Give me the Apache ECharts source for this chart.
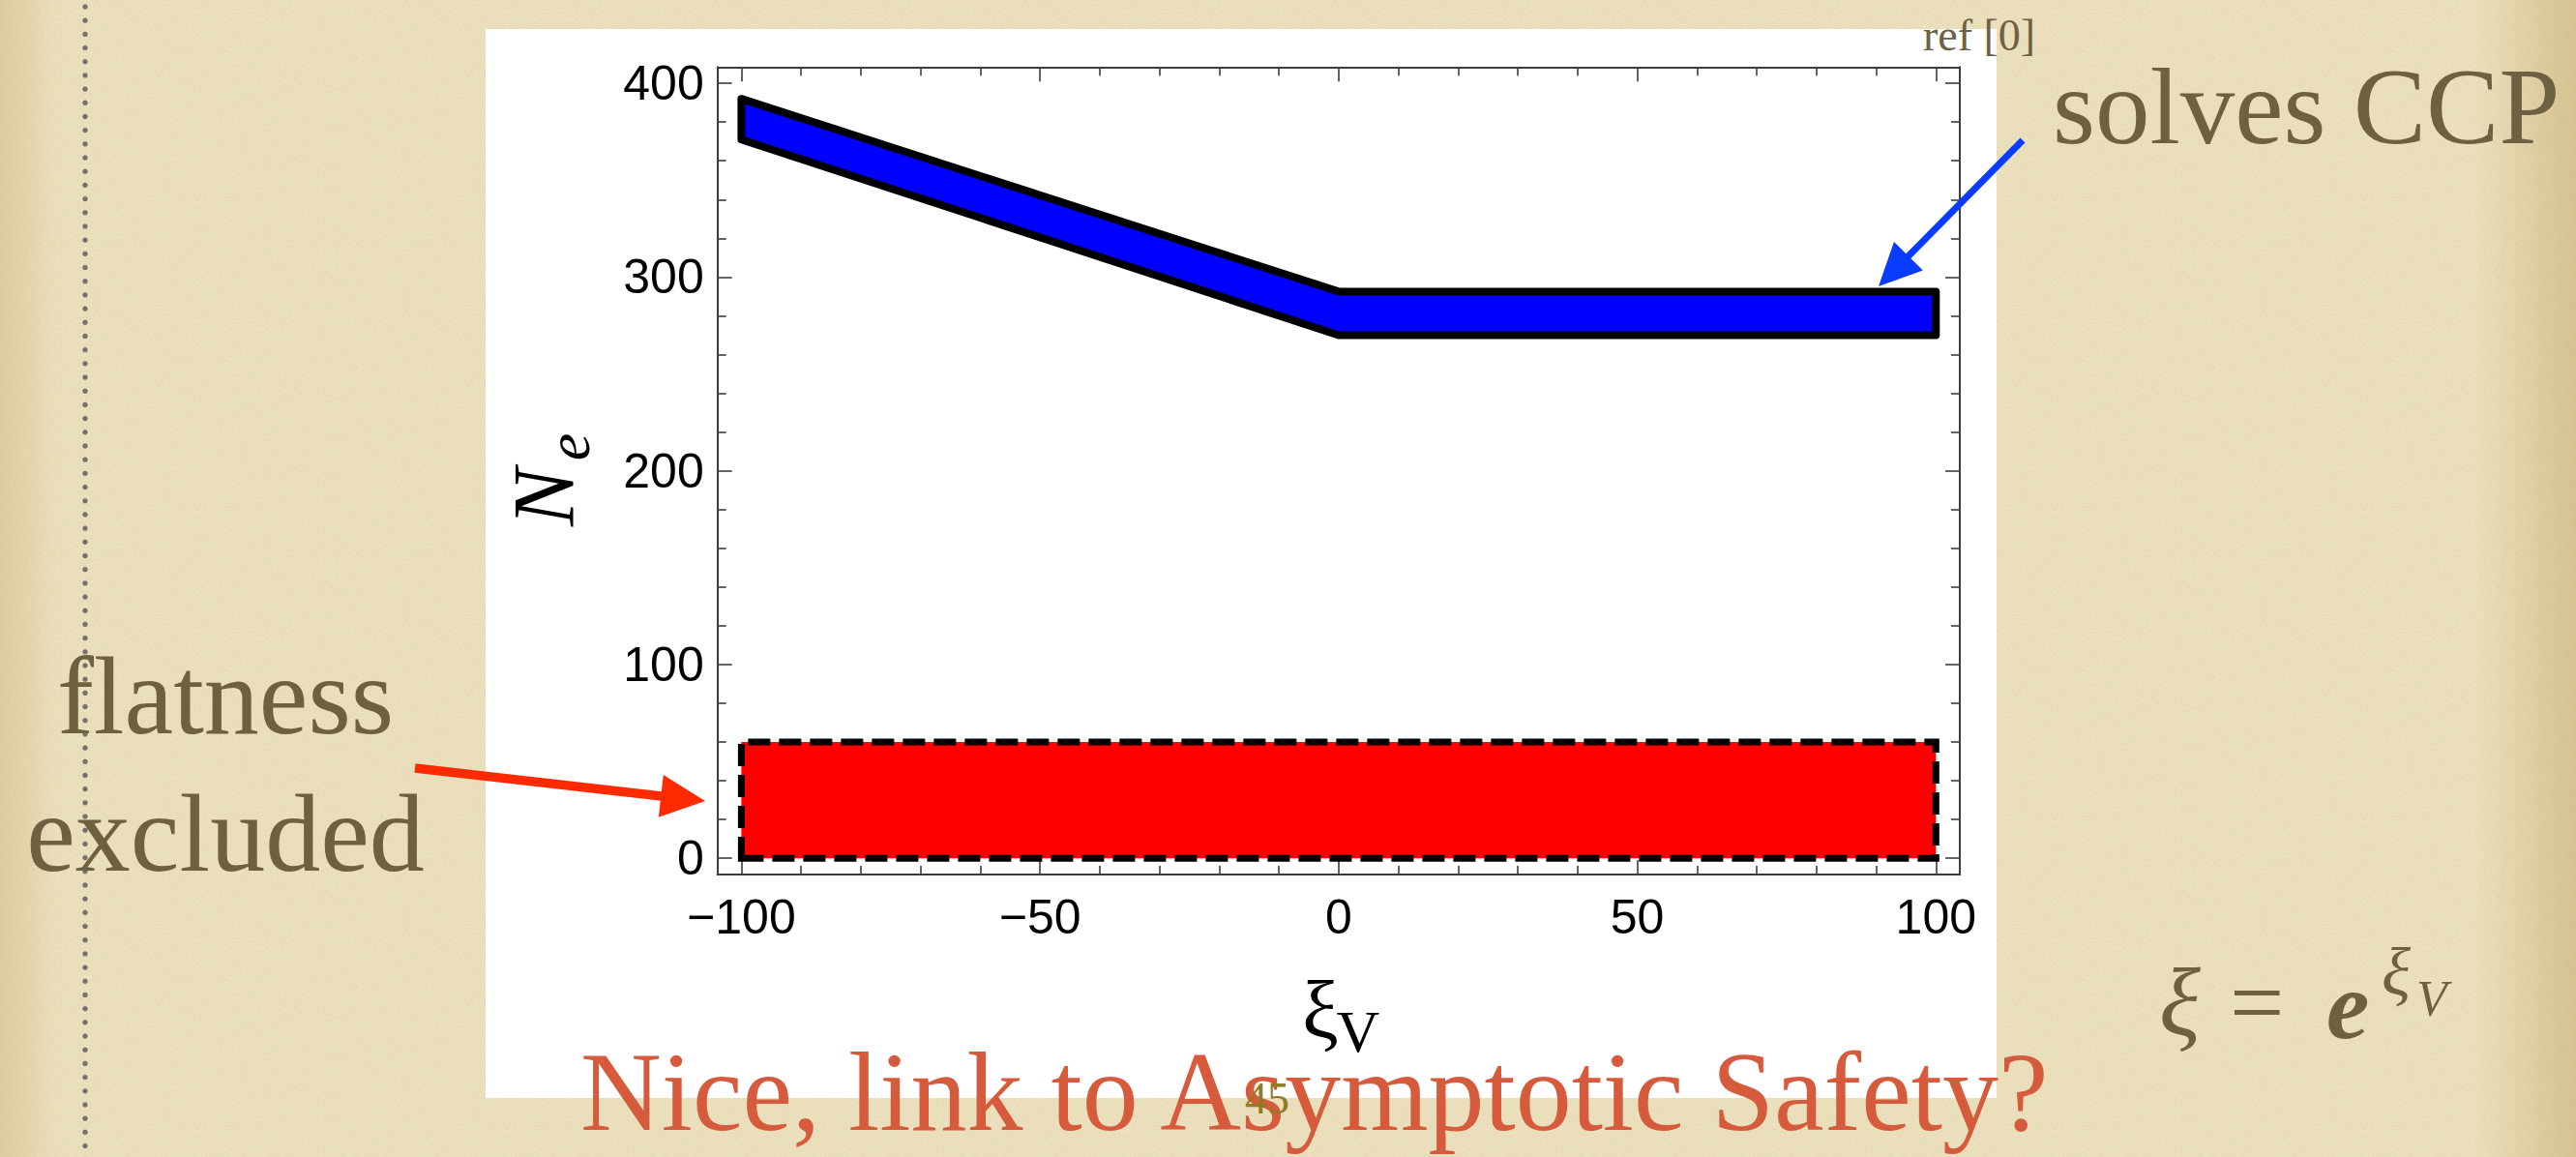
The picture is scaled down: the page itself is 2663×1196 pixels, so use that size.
<!DOCTYPE html>
<html>
<head>
<meta charset="utf-8">
<title>N_e versus xi_V</title>
<script src="https://cdn.jsdelivr.net/npm/echarts@6/dist/echarts.min.js"></script>
<style>
  html, body { margin: 0; padding: 0; width: 2663px; height: 1196px; overflow: hidden; }
  #slide { position: absolute; left: 0; top: 0; width: 2663px; height: 1196px; background: #ede2bf; }
  #grain { position: absolute; left: 0; top: 0; width: 100%; height: 100%; opacity: 0.55; }
  #shade { position: absolute; left: 0; top: 0; width: 100%; height: 100%;
    background: linear-gradient(to right, rgba(180,145,75,0.26) 0px, rgba(180,145,75,0) 60px,
                rgba(180,145,75,0) 2560px, rgba(180,145,75,0.38) 2663px); }
  #rule { position: absolute; left: 85px; top: 0; width: 6px; height: 1196px;
    background-image: radial-gradient(circle at 3px 7px, #74706a 2.3px, rgba(116,112,106,0) 3px);
    background-size: 6px 14.2px; }
  #panel { position: absolute; left: 502px; top: 30px; width: 1562px; height: 1105px; background: #ffffff; }
  #chart { position: absolute; left: 0; top: 0; width: 2663px; height: 1196px; }
</style>
</head>
<body>
<div id="slide">
  <div id="grain"></div>
  <div id="shade"></div>
  <div id="rule"></div>
  <div id="panel"></div>
</div>
<div id="chart"></div>
<script>
// e-folds N_e against xi_V: band where the cosmological constant problem is solved,
// and the region excluded by flatness.
const xiV     = [-100, 0, 100];
const neUpper = [392, 292.5, 292.5];
const neLower = [371, 270, 270];

const flatXi = [-100, 100];
const flatNe = [0, 60];

const xMajor = [-100, -50, 0, 50, 100];
const xMinor = [-90, -80, -70, -60, -40, -30, -20, -10, 10, 20, 30, 40, 60, 70, 80, 90];
const yMajor = [0, 100, 200, 300, 400];
const yMinor = [20, 40, 60, 80, 120, 140, 160, 180, 220, 240, 260, 280, 320, 340, 360, 380];

// parchment grain
(function () {
  const svg = "<svg xmlns='http://www.w3.org/2000/svg' width='320' height='320'>" +
    "<filter id='n'><feTurbulence type='fractalNoise' baseFrequency='0.85' numOctaves='2' stitchTiles='stitch'/>" +
    "<feColorMatrix values='0 0 0 0 0.62  0 0 0 0 0.52  0 0 0 0 0.30  1.3 0 0 0 -0.48'/></filter>" +
    "<rect width='100%' height='100%' filter='url(#n)'/></svg>";
  document.getElementById('grain').style.backgroundImage =
    'url("data:image/svg+xml;charset=utf-8,' + encodeURIComponent(svg) + '")';
})();

const FRAME = '#3d3d3d';
const SANS = '"Liberation Sans", Arial, sans-serif';
const SERIF = '"Liberation Serif", "Times New Roman", serif';
const INK = '#6e6141';

function xAxisDef(position, ticks, len, showLine, labels) {
  return {
    type: 'value', position: position, min: -104, max: 104,
    axisLine: { show: showLine, onZero: false, lineStyle: { color: FRAME, width: 2 } },
    axisTick: { show: true, inside: true, length: len, customValues: ticks,
                lineStyle: { color: FRAME, width: 1.6 } },
    axisLabel: labels ? {
      show: true, customValues: ticks, margin: 19, color: '#000',
      fontSize: 50, fontFamily: SANS,
      formatter: v => (v < 0 ? '\u2212' + Math.abs(v) : String(v))
    } : { show: false },
    splitLine: { show: false }
  };
}
function yAxisDef(position, ticks, len, showLine, labels) {
  return {
    type: 'value', position: position, min: -8.4, max: 408.4,
    axisLine: { show: showLine, onZero: false, lineStyle: { color: FRAME, width: 2 } },
    axisTick: { show: true, inside: true, length: len, customValues: ticks,
                lineStyle: { color: FRAME, width: 1.6 } },
    axisLabel: labels ? {
      show: true, customValues: ticks, margin: 14, color: '#000',
      fontSize: 50, fontFamily: SANS
    } : { show: false },
    splitLine: { show: false }
  };
}

function text(str, x, y, size, o) {
  o = o || {};
  return {
    type: 'text', x: x, y: y, rotation: o.rotation || 0, z: 100,
    style: {
      text: str, fontSize: size, fontFamily: o.family || SERIF,
      fontStyle: o.italic ? 'italic' : 'normal', fontWeight: o.bold ? 'bold' : 'normal',
      fill: o.color || INK, align: o.align || 'left', verticalAlign: 'middle'
    }
  };
}
// y given as the text baseline
function textB(str, x, base, size, o) {
  return text(str, x, base - 0.338 * size, size, o);
}

function arrow(tail, tip, width, headLen, headHalf, color) {
  const dx = tip[0] - tail[0], dy = tip[1] - tail[1];
  const L = Math.hypot(dx, dy), ux = dx / L, uy = dy / L, px = -uy, py = ux;
  const bx = tip[0] - ux * headLen, by = tip[1] - uy * headLen;
  return [
    { type: 'line', z: 90, shape: { x1: tail[0], y1: tail[1], x2: bx + ux * 3, y2: by + uy * 3 },
      style: { stroke: color, lineWidth: width } },
    { type: 'polygon', z: 90,
      shape: { points: [tip, [bx + px * headHalf, by + py * headHalf], [bx - px * headHalf, by - py * headHalf]] },
      style: { fill: color } }
  ];
}

const chart = echarts.init(document.getElementById('chart'), null, { renderer: 'svg' });

chart.setOption({
  animation: false,
  backgroundColor: 'transparent',
  grid: { left: 741.7, top: 69.3, width: 1284.3, height: 834.7 },
  xAxis: [
    xAxisDef('bottom', xMajor, 15, true, true),
    xAxisDef('bottom', xMinor, 9, false, false),
    xAxisDef('top', xMajor, 15, true, false),
    xAxisDef('top', xMinor, 9, false, false)
  ],
  yAxis: [
    yAxisDef('left', yMajor, 15, true, true),
    yAxisDef('left', yMinor, 9, false, false),
    yAxisDef('right', yMajor, 15, true, false),
    yAxisDef('right', yMinor, 9, false, false)
  ],
  series: [
    {
      name: 'flatness excluded', type: 'custom', xAxisIndex: 0, yAxisIndex: 0,
      data: [[flatXi[0], flatNe[0]]],
      renderItem: function (params, api) {
        const pts = [
          api.coord([flatXi[0], flatNe[0]]), api.coord([flatXi[1], flatNe[0]]),
          api.coord([flatXi[1], flatNe[1]]), api.coord([flatXi[0], flatNe[1]])
        ];
        return { type: 'polygon', shape: { points: pts },
                 style: { fill: '#ff0000', stroke: '#000', lineWidth: 7, lineDash: [23, 9] } };
      }
    },
    {
      name: 'solves CCP', type: 'custom', xAxisIndex: 0, yAxisIndex: 0,
      data: [[xiV[0], neUpper[0]]],
      renderItem: function (params, api) {
        const top = xiV.map((x, i) => api.coord([x, neUpper[i]]));
        const bot = xiV.map((x, i) => api.coord([x, neLower[i]])).reverse();
        return { type: 'polygon', shape: { points: top.concat(bot) },
                 style: { fill: '#0000ff', stroke: '#000', lineWidth: 8, lineJoin: 'round' } };
      }
    }
  ],
  graphic: [
    // axis titles
    text('N', 562, 514, 90, { italic: true, color: '#000', rotation: Math.PI / 2, align: 'center' }),
    text('e', 587, 462, 64, { italic: true, color: '#000', rotation: Math.PI / 2, align: 'center' }),
    textB('\u03BE', 1365, 1073, 85, { color: '#000', align: 'center' }),
    textB('V', 1404, 1087, 62, { color: '#000', align: 'center' }),

    // slide annotations
    textB('ref [0]', 1988, 52, 46, {}),
    textB('solves CCP', 2122, 148, 113, {}),
    textB('flatness', 233, 758, 114, { align: 'center' }),
    textB('excluded', 233, 900, 114, { align: 'center' }),
    textB('Nice, link to Asymptotic Safety?', 600, 1168, 116, { color: '#d65b3c' }),
    text('45', 1310, 1135, 46, { color: '#927a24', align: 'center' }),

    // xi = e^{xi_V}
    textB('\u03BE', 2232, 1069, 100, { italic: true }),
    textB('=', 2305, 1070, 100, {}),
    textB('e', 2405, 1073, 100, { italic: true, bold: true }),
    textB('\u03BE', 2462, 1028, 70, { italic: true }),
    textB('V', 2498, 1050, 52, { italic: true })
  ]
    .concat(arrow([2091, 145], [1942, 296], 7, 44, 21, '#0a3cff'))
    .concat(arrow([429, 794], [729, 828], 9.5, 46, 22, '#ff2a00'))
});
</script>
</body>
</html>
